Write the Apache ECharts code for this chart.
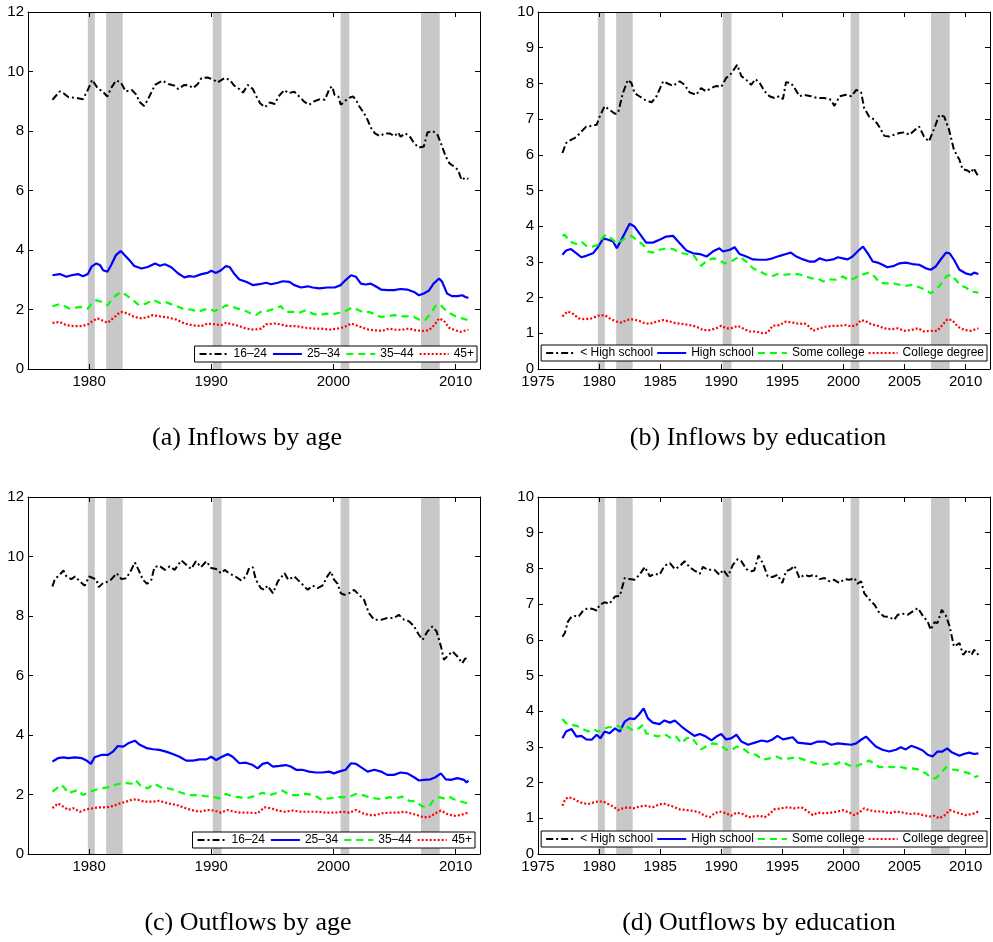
<!DOCTYPE html>
<html>
<head>
<meta charset="utf-8">
<script src="https://cdn.jsdelivr.net/npm/echarts@6/dist/echarts.min.js"></script>
<style>
  html, body { margin: 0; padding: 0; background: #fff; }
  #chart { width: 993px; height: 942px; }
</style>
</head>
<body>
<div id="chart"></div>
<script>
// ---- Tick labels and categories ----
const ageYearTicks = [1980, 1990, 2000, 2010];
const eduYearTicks = [1975, 1980, 1985, 1990, 1995, 2000, 2005, 2010];
const ageGroups = ['16\u201324', '25\u201334', '35\u201344', '45+'];
const eduGroups = ['< High school', 'High school', 'Some college', 'College degree'];

// Recession periods (start, end) in fractional years
const recessions = [[1979.9, 1980.47], [1981.4, 1982.75], [1990.12, 1990.84], [2000.59, 2001.3], [2007.17, 2008.7]];

// ---- (a) Inflows by age: [year, rate] ----
const inAge1624 = [[1977.0,9.05],[1977.6,9.33],[1977.9,9.27],[1978.3,9.14],[1979.1,9.1],[1979.5,9.07],[1979.9,9.38],[1980.25,9.72],[1980.7,9.44],[1981.1,9.33],[1981.5,9.16],[1981.8,9.44],[1982.2,9.7],[1982.6,9.63],[1983.0,9.33],[1983.5,9.38],[1983.9,9.21],[1984.1,8.99],[1984.5,8.84],[1984.8,9.05],[1985.4,9.55],[1986.0,9.69],[1986.5,9.58],[1987.0,9.52],[1987.3,9.41],[1987.8,9.55],[1988.2,9.53],[1988.5,9.44],[1988.9,9.58],[1989.2,9.78],[1989.7,9.8],[1990.2,9.72],[1990.5,9.63],[1991.1,9.78],[1991.5,9.72],[1991.9,9.52],[1992.3,9.41],[1992.6,9.29],[1993.0,9.55],[1993.4,9.41],[1993.7,9.16],[1994.0,8.93],[1994.4,8.8],[1994.8,8.96],[1995.2,8.91],[1995.5,9.16],[1996.0,9.38],[1996.3,9.27],[1996.8,9.32],[1997.2,9.16],[1997.6,8.99],[1998.0,8.88],[1998.4,8.99],[1998.9,9.07],[1999.3,9.05],[1999.7,9.44],[1999.9,9.5],[2000.1,9.21],[2000.4,9.16],[2000.6,8.88],[2000.9,8.99],[2001.2,9.1],[2001.6,9.16],[2001.85,9.05],[2002.1,8.84],[2002.5,8.6],[2002.8,8.37],[2003.1,8.09],[2003.4,7.92],[2003.8,7.83],[2004.2,7.92],[2004.6,7.92],[2005.0,7.83],[2005.3,7.95],[2005.5,7.81],[2005.9,7.92],[2006.3,7.79],[2006.6,7.59],[2007.0,7.44],[2007.4,7.48],[2007.7,7.95],[2008.1,8.0],[2008.5,7.9],[2008.8,7.59],[2009.2,7.14],[2009.5,6.91],[2009.9,6.8],[2010.2,6.69],[2010.5,6.35],[2010.8,6.44],[2011.05,6.39]];
const inAge2534 = [[1977.0,3.15],[1977.6,3.19],[1978.15,3.10],[1978.55,3.15],[1979.1,3.19],[1979.5,3.12],[1979.9,3.19],[1980.2,3.44],[1980.6,3.55],[1980.9,3.49],[1981.15,3.32],[1981.5,3.27],[1981.8,3.49],[1982.2,3.83],[1982.6,3.97],[1982.9,3.83],[1983.3,3.66],[1983.7,3.46],[1984.3,3.38],[1984.8,3.43],[1985.4,3.55],[1985.8,3.47],[1986.2,3.52],[1986.7,3.43],[1987.3,3.21],[1987.8,3.08],[1988.2,3.12],[1988.6,3.10],[1989.2,3.19],[1989.7,3.23],[1990.0,3.30],[1990.4,3.23],[1990.8,3.32],[1991.2,3.46],[1991.5,3.43],[1991.9,3.19],[1992.3,3.01],[1992.85,2.93],[1993.4,2.82],[1993.95,2.85],[1994.5,2.90],[1994.9,2.85],[1995.45,2.90],[1995.85,2.95],[1996.4,2.93],[1996.8,2.82],[1997.35,2.74],[1997.9,2.78],[1998.3,2.74],[1998.85,2.71],[1999.5,2.74],[2000.1,2.74],[2000.6,2.82],[2001.0,2.99],[2001.45,3.15],[2001.85,3.10],[2002.25,2.87],[2002.65,2.84],[2003.05,2.87],[2003.45,2.78],[2003.9,2.67],[2004.4,2.65],[2004.95,2.65],[2005.5,2.69],[2006.05,2.67],[2006.6,2.59],[2007.0,2.48],[2007.4,2.54],[2007.8,2.63],[2008.2,2.87],[2008.65,3.04],[2008.9,2.93],[2009.3,2.54],[2009.7,2.45],[2010.15,2.45],[2010.55,2.48],[2010.8,2.42],[2011.05,2.39]];
const inAge3544 = [[1977.0,2.11],[1977.6,2.18],[1978.0,2.11],[1978.4,2.03],[1979.0,2.07],[1979.5,2.09],[1979.9,2.03],[1980.25,2.22],[1980.6,2.31],[1981.0,2.26],[1981.5,2.14],[1981.8,2.29],[1982.2,2.48],[1982.65,2.59],[1983.05,2.48],[1983.6,2.31],[1984.1,2.14],[1984.7,2.20],[1985.2,2.33],[1985.8,2.22],[1986.2,2.26],[1986.7,2.18],[1987.3,2.09],[1987.8,2.00],[1988.35,2.00],[1988.9,1.92],[1989.3,1.98],[1989.7,2.03],[1990.25,1.95],[1990.8,2.03],[1991.2,2.14],[1991.6,2.11],[1992.15,2.03],[1992.7,1.98],[1993.25,1.86],[1993.65,1.81],[1994.05,1.92],[1994.6,1.95],[1995.15,2.03],[1995.7,2.11],[1996.1,1.92],[1996.65,1.92],[1997.2,1.89],[1997.75,1.98],[1998.3,1.86],[1998.85,1.81],[1999.4,1.86],[1999.95,1.84],[2000.5,1.89],[2001.0,1.95],[2001.55,2.07],[2001.95,2.00],[2002.5,1.89],[2002.9,1.92],[2003.3,1.86],[2003.85,1.75],[2004.4,1.77],[2004.95,1.81],[2005.5,1.77],[2006.05,1.77],[2006.6,1.75],[2007.1,1.64],[2007.55,1.66],[2007.95,1.86],[2008.35,2.11],[2008.7,2.18],[2009.05,2.03],[2009.45,1.89],[2010.0,1.77],[2010.55,1.70],[2011.05,1.64]];
const inAge45 = [[1977.0,1.55],[1977.6,1.58],[1978.15,1.47],[1978.7,1.44],[1979.4,1.44],[1979.9,1.50],[1980.3,1.62],[1980.7,1.70],[1981.15,1.62],[1981.5,1.55],[1981.95,1.70],[1982.4,1.86],[1982.7,1.92],[1983.2,1.86],[1983.7,1.75],[1984.3,1.70],[1984.8,1.75],[1985.2,1.81],[1985.8,1.77],[1986.45,1.73],[1987.15,1.66],[1987.8,1.53],[1988.5,1.47],[1989.2,1.44],[1989.7,1.53],[1990.4,1.50],[1990.8,1.47],[1991.2,1.55],[1991.75,1.50],[1992.3,1.44],[1992.85,1.36],[1993.5,1.32],[1994.1,1.36],[1994.5,1.50],[1995.15,1.53],[1995.7,1.50],[1996.25,1.44],[1996.95,1.44],[1997.6,1.39],[1998.3,1.36],[1998.95,1.36],[1999.65,1.32],[2000.35,1.36],[2000.9,1.41],[2001.45,1.53],[2001.85,1.47],[2002.4,1.39],[2002.9,1.32],[2003.45,1.30],[2004.0,1.28],[2004.55,1.36],[2005.1,1.32],[2005.65,1.32],[2006.2,1.36],[2006.75,1.30],[2007.3,1.28],[2007.8,1.30],[2008.25,1.47],[2008.65,1.70],[2009.05,1.62],[2009.45,1.39],[2010.0,1.30],[2010.4,1.25],[2011.05,1.32]];

// ---- (b) Inflows by education ----
const inEduLessHS = [[1977.0,6.05],[1977.3,6.33],[1977.7,6.42],[1978.15,6.50],[1978.55,6.65],[1978.95,6.79],[1979.4,6.81],[1979.8,6.84],[1980.05,7.07],[1980.45,7.36],[1980.85,7.26],[1981.3,7.15],[1981.55,7.17],[1981.95,7.73],[1982.35,8.10],[1982.65,8.01],[1982.9,7.73],[1983.3,7.64],[1983.75,7.54],[1984.3,7.47],[1984.7,7.64],[1985.25,8.06],[1985.65,7.99],[1986.05,7.93],[1986.6,8.06],[1987.0,7.96],[1987.4,7.75],[1987.95,7.68],[1988.35,7.87],[1988.75,7.78],[1989.2,7.87],[1989.6,7.93],[1990.0,7.90],[1990.4,8.15],[1990.8,8.27],[1991.3,8.52],[1991.65,8.20],[1992.05,8.10],[1992.45,7.96],[1992.8,8.12],[1993.15,8.01],[1993.55,7.78],[1993.95,7.64],[1994.35,7.59],[1994.75,7.64],[1995.05,7.56],[1995.3,8.03],[1995.7,8.01],[1996.0,7.87],[1996.4,7.64],[1996.8,7.68],[1997.35,7.64],[1997.9,7.59],[1998.45,7.59],[1999.0,7.54],[1999.25,7.37],[1999.7,7.64],[2000.2,7.68],[2000.65,7.64],[2001.05,7.82],[2001.45,7.75],[2001.7,7.31],[2002.1,7.07],[2002.55,6.98],[2002.95,6.78],[2003.35,6.53],[2003.75,6.51],[2004.15,6.56],[2004.6,6.61],[2005.0,6.63],[2005.4,6.56],[2005.8,6.68],[2006.2,6.79],[2006.6,6.51],[2007.0,6.37],[2007.45,6.75],[2007.85,7.12],[2008.25,7.07],[2008.65,6.70],[2009.05,6.14],[2009.5,5.86],[2009.75,5.60],[2010.15,5.56],[2010.45,5.49],[2010.65,5.63],[2011.05,5.39]];
const inEduHS = [[1977.0,3.20],[1977.3,3.32],[1977.7,3.36],[1978.15,3.24],[1978.55,3.13],[1978.95,3.17],[1979.5,3.24],[1979.9,3.41],[1980.35,3.66],[1980.75,3.62],[1981.15,3.57],[1981.45,3.38],[1981.7,3.54],[1982.1,3.80],[1982.5,4.07],[1982.9,3.99],[1983.3,3.80],[1983.85,3.54],[1984.4,3.54],[1984.95,3.62],[1985.5,3.71],[1986.05,3.73],[1986.6,3.52],[1987.15,3.32],[1987.7,3.24],[1988.25,3.22],[1988.8,3.15],[1989.3,3.29],[1989.85,3.38],[1990.15,3.29],[1990.7,3.34],[1991.1,3.41],[1991.5,3.22],[1992.05,3.15],[1992.6,3.07],[1993.15,3.06],[1993.7,3.06],[1994.2,3.10],[1994.8,3.17],[1995.3,3.22],[1995.7,3.26],[1996.15,3.15],[1996.7,3.07],[1997.2,3.01],[1997.65,3.01],[1998.05,3.10],[1998.6,3.04],[1999.15,3.07],[1999.55,3.13],[1999.95,3.10],[2000.35,3.07],[2000.75,3.15],[2001.15,3.29],[2001.6,3.43],[2002.0,3.24],[2002.4,3.01],[2002.8,2.98],[2003.2,2.92],[2003.6,2.85],[2004.15,2.89],[2004.6,2.96],[2005.1,2.98],[2005.65,2.94],[2006.2,2.92],[2006.75,2.82],[2007.15,2.78],[2007.55,2.87],[2007.95,3.06],[2008.4,3.26],[2008.7,3.24],[2009.05,3.06],[2009.5,2.78],[2010.0,2.68],[2010.45,2.64],[2010.7,2.70],[2011.05,2.66]];
const inEduSomeCol = [[1977.0,3.73],[1977.2,3.76],[1977.6,3.57],[1978.15,3.50],[1978.55,3.57],[1978.95,3.45],[1979.5,3.43],[1979.9,3.48],[1980.35,3.71],[1980.6,3.76],[1981.0,3.66],[1981.45,3.52],[1981.85,3.60],[1982.25,3.69],[1982.65,3.73],[1983.05,3.62],[1983.6,3.48],[1984.0,3.29],[1984.4,3.26],[1984.95,3.34],[1985.5,3.38],[1986.05,3.36],[1986.6,3.26],[1987.15,3.22],[1987.7,3.20],[1988.1,3.01],[1988.35,2.89],[1988.75,3.01],[1989.3,3.10],[1989.85,3.06],[1990.25,2.96],[1990.7,2.98],[1991.1,3.07],[1991.5,3.15],[1992.05,3.01],[1992.6,2.82],[1993.15,2.73],[1993.7,2.64],[1994.1,2.59],[1994.65,2.66],[1995.2,2.64],[1995.7,2.66],[1996.25,2.66],[1996.8,2.61],[1997.35,2.54],[1997.9,2.54],[1998.35,2.45],[1998.85,2.51],[1999.4,2.50],[1999.95,2.59],[2000.5,2.48],[2000.9,2.54],[2001.3,2.64],[2001.7,2.66],[2002.1,2.70],[2002.55,2.59],[2002.95,2.42],[2003.5,2.40],[2004.05,2.40],[2004.6,2.36],[2005.1,2.33],[2005.65,2.36],[2006.2,2.29],[2006.75,2.21],[2007.15,2.12],[2007.55,2.21],[2007.95,2.36],[2008.4,2.59],[2008.8,2.64],[2009.2,2.50],[2009.6,2.33],[2010.0,2.29],[2010.45,2.17],[2011.05,2.14]];
const inEduCollege = [[1977.0,1.47],[1977.2,1.54],[1977.45,1.61],[1977.9,1.54],[1978.3,1.42],[1978.85,1.39],[1979.4,1.42],[1979.9,1.49],[1980.45,1.51],[1980.85,1.42],[1981.4,1.33],[1981.85,1.30],[1982.25,1.37],[1982.65,1.39],[1983.2,1.36],[1983.6,1.30],[1984.15,1.26],[1984.7,1.33],[1985.25,1.37],[1985.8,1.33],[1986.3,1.28],[1986.85,1.26],[1987.4,1.23],[1987.95,1.19],[1988.5,1.09],[1989.05,1.09],[1989.6,1.14],[1990.0,1.21],[1990.4,1.14],[1990.8,1.14],[1991.35,1.21],[1991.75,1.14],[1992.3,1.05],[1992.85,1.05],[1993.4,1.00],[1993.8,1.02],[1994.2,1.21],[1994.75,1.23],[1995.3,1.33],[1995.85,1.30],[1996.4,1.26],[1996.8,1.28],[1997.2,1.19],[1997.5,1.07],[1998.05,1.14],[1998.6,1.19],[1999.15,1.21],[1999.7,1.21],[2000.2,1.23],[2000.65,1.19],[2001.05,1.23],[2001.45,1.37],[2001.85,1.33],[2002.25,1.26],[2002.8,1.21],[2003.35,1.14],[2003.9,1.11],[2004.45,1.14],[2005.0,1.07],[2005.55,1.09],[2006.1,1.14],[2006.6,1.05],[2007.15,1.07],[2007.7,1.07],[2008.1,1.23],[2008.5,1.39],[2008.9,1.37],[2009.35,1.19],[2009.9,1.09],[2010.45,1.07],[2011.05,1.14]];

// ---- (c) Outflows by age ----
const outAge1624 = [[1977.0,8.99],[1977.2,9.24],[1977.6,9.39],[1977.9,9.53],[1978.15,9.33],[1978.55,9.24],[1978.85,9.33],[1979.25,9.16],[1979.65,9.02],[1980.0,9.33],[1980.35,9.27],[1980.6,9.22],[1980.8,8.97],[1981.15,9.11],[1981.55,9.16],[1981.8,9.22],[1982.25,9.44],[1982.65,9.24],[1983.05,9.27],[1983.45,9.55],[1983.75,9.80],[1984.05,9.55],[1984.4,9.22],[1984.75,9.08],[1985.1,9.22],[1985.35,9.64],[1985.75,9.69],[1986.2,9.55],[1986.6,9.67],[1987.0,9.55],[1987.55,9.87],[1987.95,9.72],[1988.35,9.58],[1988.75,9.84],[1989.15,9.64],[1989.6,9.84],[1990.0,9.61],[1990.4,9.58],[1990.8,9.44],[1991.1,9.55],[1991.5,9.42],[1991.9,9.35],[1992.45,9.20],[1992.85,9.33],[1993.1,9.61],[1993.4,9.64],[1993.65,9.22],[1994.05,8.94],[1994.35,8.88],[1994.6,9.02],[1995.05,8.77],[1995.45,9.16],[1996.0,9.44],[1996.3,9.22],[1996.8,9.33],[1997.35,9.11],[1997.9,8.88],[1998.3,9.02],[1998.7,8.94],[1999.1,9.02],[1999.5,9.33],[1999.8,9.50],[2000.05,9.22],[2000.35,9.08],[2000.6,8.77],[2000.9,8.71],[2001.3,8.77],[2001.7,8.88],[2002.1,8.71],[2002.5,8.55],[2002.9,8.10],[2003.35,7.87],[2003.9,7.87],[2004.4,7.93],[2004.95,7.93],[2005.35,8.04],[2005.8,7.87],[2006.2,7.82],[2006.6,7.65],[2007.0,7.37],[2007.3,7.20],[2007.7,7.48],[2008.1,7.65],[2008.45,7.48],[2008.8,6.98],[2009.05,6.53],[2009.45,6.70],[2009.75,6.81],[2010.15,6.64],[2010.55,6.41],[2010.8,6.58],[2011.05,6.47]];
const outAge2534 = [[1977.0,3.11],[1977.45,3.22],[1977.9,3.25],[1978.3,3.22],[1978.85,3.25],[1979.4,3.22],[1979.8,3.14],[1980.15,3.03],[1980.45,3.25],[1981.0,3.33],[1981.55,3.33],[1981.95,3.44],[1982.35,3.63],[1982.8,3.61],[1983.2,3.72],[1983.75,3.81],[1984.15,3.67],[1984.7,3.56],[1985.25,3.52],[1985.75,3.50],[1986.3,3.44],[1986.85,3.36],[1987.4,3.27],[1987.95,3.14],[1988.5,3.14],[1989.05,3.18],[1989.6,3.18],[1990.0,3.27],[1990.4,3.16],[1990.8,3.25],[1991.35,3.36],[1991.75,3.27],[1992.3,3.05],[1992.85,3.07],[1993.4,2.99],[1993.8,2.88],[1994.2,3.03],[1994.6,3.07],[1995.05,2.94],[1995.6,2.96],[1996.1,2.99],[1996.5,2.94],[1996.95,2.83],[1997.45,2.83],[1998.0,2.77],[1998.55,2.74],[1999.1,2.74],[1999.65,2.77],[2000.05,2.71],[2000.45,2.77],[2001.0,2.83],[2001.45,3.05],[2001.85,3.03],[2002.25,2.92],[2002.8,2.77],[2003.35,2.83],[2003.9,2.77],[2004.4,2.66],[2004.95,2.66],[2005.5,2.74],[2006.05,2.71],[2006.6,2.58],[2007.0,2.47],[2007.4,2.49],[2007.95,2.51],[2008.35,2.58],[2008.8,2.71],[2009.2,2.51],[2009.6,2.49],[2010.15,2.55],[2010.7,2.49],[2010.9,2.40],[2011.05,2.47]];
const outAge3544 = [[1977.0,2.10],[1977.35,2.21],[1977.75,2.32],[1978.0,2.21],[1978.3,2.04],[1978.7,2.10],[1979.1,2.15],[1979.5,1.98],[1979.9,2.06],[1980.45,2.15],[1981.0,2.21],[1981.55,2.24],[1982.1,2.32],[1982.5,2.36],[1983.05,2.38],[1983.6,2.36],[1983.85,2.47],[1984.25,2.27],[1984.8,2.21],[1985.35,2.36],[1985.9,2.24],[1986.45,2.21],[1987.0,2.15],[1987.55,2.06],[1988.2,1.98],[1988.9,1.98],[1989.45,1.95],[1990.1,1.93],[1990.65,1.87],[1991.2,2.02],[1991.75,1.93],[1992.3,1.91],[1992.85,1.87],[1993.55,1.95],[1994.2,2.06],[1994.75,1.98],[1995.3,2.04],[1995.85,2.13],[1996.4,1.98],[1997.05,1.98],[1997.75,2.02],[1998.45,1.98],[1998.95,1.84],[1999.65,1.87],[2000.35,1.91],[2000.9,1.91],[2001.45,1.95],[2001.85,2.02],[2002.4,1.98],[2002.9,1.91],[2003.45,1.87],[2004.0,1.84],[2004.55,1.91],[2005.1,1.87],[2005.65,1.93],[2006.2,1.79],[2006.75,1.76],[2007.3,1.59],[2007.85,1.61],[2008.25,1.84],[2008.65,1.91],[2009.05,1.87],[2009.45,1.93],[2009.85,1.84],[2010.25,1.79],[2010.7,1.73],[2011.05,1.70]];
const outAge45 = [[1977.0,1.54],[1977.45,1.70],[1977.9,1.59],[1978.3,1.48],[1978.7,1.54],[1979.25,1.42],[1979.8,1.50],[1980.35,1.54],[1980.85,1.57],[1981.4,1.57],[1981.95,1.61],[1982.5,1.70],[1983.05,1.76],[1983.6,1.84],[1984.0,1.82],[1984.55,1.76],[1985.25,1.76],[1985.75,1.79],[1986.45,1.70],[1987.15,1.65],[1987.7,1.57],[1988.35,1.48],[1989.05,1.42],[1989.7,1.48],[1990.25,1.46],[1990.8,1.39],[1991.35,1.48],[1991.9,1.42],[1992.45,1.39],[1993.1,1.39],[1993.8,1.37],[1994.35,1.57],[1994.9,1.54],[1995.45,1.46],[1996.0,1.42],[1996.65,1.46],[1997.35,1.42],[1998.0,1.42],[1998.7,1.42],[1999.4,1.39],[2000.05,1.39],[2000.75,1.42],[2001.3,1.39],[2001.85,1.48],[2002.4,1.37],[2002.9,1.31],[2003.45,1.31],[2004.0,1.37],[2004.7,1.39],[2005.25,1.39],[2005.8,1.42],[2006.3,1.37],[2006.85,1.31],[2007.4,1.23],[2007.95,1.26],[2008.35,1.37],[2008.8,1.46],[2009.3,1.35],[2009.85,1.28],[2010.4,1.31],[2011.05,1.39]];

// ---- (d) Outflows by education ----
const outEduLessHS = [[1977.0,6.09],[1977.2,6.19],[1977.45,6.51],[1977.75,6.65],[1978.0,6.67],[1978.3,6.64],[1978.7,6.82],[1979.1,6.89],[1979.5,6.86],[1979.8,6.82],[1980.05,6.98],[1980.45,7.05],[1980.85,7.01],[1981.3,7.21],[1981.7,7.23],[1982.1,7.73],[1982.5,7.70],[1982.9,7.68],[1983.3,7.82],[1983.75,8.04],[1984.15,7.78],[1984.55,7.85],[1984.95,7.82],[1985.35,8.07],[1985.8,8.15],[1986.2,7.98],[1986.6,8.06],[1987.0,8.20],[1987.4,8.04],[1987.8,7.94],[1988.25,7.85],[1988.5,8.04],[1988.9,7.96],[1989.45,7.96],[1989.85,7.82],[1990.15,7.96],[1990.55,7.78],[1990.95,8.10],[1991.35,8.26],[1991.65,8.20],[1992.05,7.98],[1992.45,7.92],[1992.7,7.94],[1993.05,8.36],[1993.4,8.15],[1993.8,7.78],[1994.2,7.76],[1994.6,7.82],[1995.0,7.59],[1995.3,7.92],[1995.7,7.98],[1996.0,8.07],[1996.4,7.73],[1996.8,7.82],[1997.2,7.78],[1997.65,7.82],[1998.05,7.70],[1998.45,7.73],[1998.85,7.64],[1999.25,7.68],[1999.65,7.59],[2000.1,7.70],[2000.5,7.68],[2000.9,7.73],[2001.15,7.57],[2001.45,7.64],[2001.7,7.31],[2002.1,7.14],[2002.55,6.98],[2002.95,6.75],[2003.35,6.65],[2003.75,6.64],[2004.15,6.56],[2004.45,6.70],[2004.85,6.73],[2005.25,6.70],[2005.65,6.79],[2006.1,6.89],[2006.5,6.67],[2006.9,6.51],[2007.15,6.28],[2007.45,6.49],[2007.7,6.47],[2008.05,6.84],[2008.4,6.67],[2008.7,6.37],[2009.05,5.81],[2009.5,5.91],[2009.8,5.58],[2010.15,5.72],[2010.5,5.58],[2010.7,5.72],[2011.05,5.58]];
const outEduHS = [[1977.0,3.24],[1977.3,3.43],[1977.75,3.50],[1978.15,3.29],[1978.55,3.31],[1978.95,3.21],[1979.4,3.20],[1979.8,3.34],[1980.1,3.24],[1980.45,3.43],[1980.85,3.38],[1981.3,3.52],[1981.7,3.43],[1982.1,3.71],[1982.5,3.80],[1982.9,3.78],[1983.25,3.90],[1983.65,4.08],[1984.0,3.80],[1984.4,3.68],[1984.95,3.64],[1985.35,3.74],[1985.8,3.68],[1986.2,3.74],[1986.75,3.57],[1987.3,3.43],[1987.8,3.31],[1988.25,3.36],[1988.75,3.29],[1989.2,3.18],[1989.6,3.29],[1990.0,3.36],[1990.4,3.21],[1990.8,3.24],[1991.25,3.34],[1991.65,3.15],[1992.2,3.06],[1992.75,3.12],[1993.3,3.18],[1993.8,3.15],[1994.2,3.21],[1994.6,3.31],[1995.05,3.21],[1995.45,3.24],[1995.85,3.27],[1996.25,3.12],[1996.8,3.10],[1997.35,3.08],[1997.9,3.15],[1998.45,3.15],[1999.0,3.06],[1999.55,3.10],[2000.1,3.08],[2000.65,3.06],[2001.05,3.10],[2001.45,3.20],[2001.85,3.29],[2002.25,3.15],[2002.65,3.01],[2003.2,2.92],[2003.75,2.87],[2004.3,2.92],[2004.7,2.99],[2005.1,2.93],[2005.55,3.03],[2006.1,2.96],[2006.5,2.90],[2006.9,2.78],[2007.3,2.73],[2007.7,2.87],[2008.1,2.87],[2008.5,2.96],[2008.9,2.84],[2009.5,2.75],[2009.85,2.80],[2010.3,2.84],[2010.7,2.80],[2011.05,2.82]];
const outEduSomeCol = [[1977.0,3.78],[1977.3,3.66],[1977.75,3.62],[1978.15,3.59],[1978.7,3.50],[1979.1,3.43],[1979.5,3.50],[1979.9,3.43],[1980.35,3.50],[1980.75,3.55],[1981.15,3.55],[1981.55,3.59],[1981.95,3.48],[1982.35,3.55],[1982.8,3.46],[1983.25,3.52],[1983.6,3.62],[1983.85,3.38],[1984.3,3.34],[1984.8,3.29],[1985.35,3.36],[1985.9,3.24],[1986.3,3.29],[1986.75,3.10],[1987.15,3.24],[1987.55,3.27],[1987.95,3.10],[1988.35,2.93],[1988.75,3.01],[1989.3,3.10],[1989.85,3.06],[1990.4,2.93],[1990.8,2.90],[1991.25,3.01],[1991.75,2.96],[1992.3,2.82],[1992.85,2.78],[1993.4,2.64],[1993.95,2.68],[1994.5,2.73],[1995.05,2.65],[1995.6,2.68],[1996.15,2.71],[1996.7,2.65],[1997.2,2.59],[1997.75,2.54],[1998.3,2.50],[1998.85,2.54],[1999.4,2.52],[1999.8,2.59],[2000.35,2.50],[2000.9,2.43],[2001.3,2.50],[2001.7,2.54],[2002.1,2.62],[2002.55,2.52],[2002.95,2.43],[2003.5,2.45],[2004.05,2.43],[2004.6,2.45],[2005.1,2.40],[2005.65,2.40],[2006.2,2.36],[2006.75,2.26],[2007.15,2.15],[2007.55,2.12],[2007.95,2.24],[2008.4,2.43],[2008.8,2.37],[2009.2,2.36],[2009.75,2.31],[2010.3,2.26],[2010.7,2.15],[2011.05,2.19]];
const outEduCollege = [[1977.0,1.35],[1977.2,1.51],[1977.45,1.59],[1977.85,1.56],[1978.3,1.47],[1978.7,1.42],[1979.1,1.40],[1979.5,1.44],[1979.9,1.47],[1980.35,1.47],[1980.75,1.40],[1981.15,1.33],[1981.55,1.23],[1981.95,1.28],[1982.35,1.31],[1982.8,1.28],[1983.3,1.33],[1983.85,1.35],[1984.4,1.31],[1984.8,1.37],[1985.25,1.42],[1985.65,1.37],[1986.05,1.33],[1986.6,1.25],[1987.15,1.23],[1987.7,1.21],[1988.25,1.16],[1988.65,1.07],[1989.05,1.03],[1989.45,1.14],[1989.85,1.19],[1990.4,1.14],[1990.8,1.07],[1991.25,1.16],[1991.75,1.12],[1992.2,1.03],[1992.6,1.05],[1993.15,1.07],[1993.55,1.03],[1993.95,1.12],[1994.35,1.25],[1994.9,1.28],[1995.45,1.31],[1996.0,1.28],[1996.55,1.31],[1997.1,1.19],[1997.5,1.09],[1997.9,1.16],[1998.45,1.14],[1999.0,1.16],[1999.55,1.19],[1999.95,1.23],[2000.5,1.16],[2000.9,1.09],[2001.3,1.16],[2001.7,1.28],[2002.1,1.23],[2002.65,1.19],[2003.2,1.19],[2003.75,1.14],[2004.3,1.19],[2004.85,1.16],[2005.4,1.12],[2005.95,1.14],[2006.5,1.09],[2007.05,1.05],[2007.45,1.07],[2007.85,1.00],[2008.3,1.09],[2008.7,1.23],[2009.05,1.19],[2009.5,1.14],[2010.0,1.09],[2010.55,1.12],[2011.05,1.19]];

// ---- Line styles shared by the four groups in each panel ----
const lineStyles = [
  { color: '#000000', width: 2, type: [7, 3, 2, 3] },   // dash-dot
  { color: '#0000ff', width: 2.2, type: 'solid' },      // solid
  { color: '#00ff00', width: 2.2, type: [7, 5] },       // dashed
  { color: '#ff0000', width: 2.2, type: [2, 2] }        // dotted
];

const panels = [
  { left: 28, top: 12, yMax: 12, yStep: 2, xTicks: ageYearTicks, names: ageGroups,
    series: [inAge1624, inAge2534, inAge3544, inAge45], caption: '(a) Inflows by age',
    capX: 247, capTop: 423, legendRight: 516, legendTop: 346, legendGap: 5 },
  { left: 538, top: 12, yMax: 10, yStep: 1, xTicks: eduYearTicks, names: eduGroups,
    series: [inEduLessHS, inEduHS, inEduSomeCol, inEduCollege], caption: '(b) Inflows by education',
    capX: 758, capTop: 423, legendRight: 6, legendTop: 345, legendGap: 3 },
  { left: 28, top: 497, yMax: 12, yStep: 2, xTicks: ageYearTicks, names: ageGroups,
    series: [outAge1624, outAge2534, outAge3544, outAge45], caption: '(c) Outflows by age',
    capX: 248, capTop: 908, legendRight: 518, legendTop: 832, legendGap: 5 },
  { left: 538, top: 497, yMax: 10, yStep: 1, xTicks: eduYearTicks, names: eduGroups,
    series: [outEduLessHS, outEduHS, outEduSomeCol, outEduCollege], caption: '(d) Outflows by education',
    capX: 759, capTop: 908, legendRight: 6, legendTop: 831, legendGap: 3 }
];

const PLOT_W = 452, PLOT_H = 357;
const tickFont = { color: '#000', fontSize: 15, fontFamily: 'Liberation Sans, Arial, sans-serif' };
const axisLineStyle = { color: '#000', width: 1 };

const option = {
  backgroundColor: '#fff',
  animation: false,
  grid: [], xAxis: [], yAxis: [], series: [], legend: [], title: []
};

panels.forEach((p, i) => {
  option.grid.push({ left: p.left, top: p.top, width: PLOT_W, height: PLOT_H,
    containLabel: false, outerBoundsMode: 'none', show: false });

  // bottom axis with labels, top axis mirrored ticks only
  ['bottom', 'top'].forEach(pos => {
    option.xAxis.push({
      type: 'value', gridIndex: i, position: pos, min: 1975, max: 2012, z: 10,
      axisLine: { show: true, onZero: false, lineStyle: axisLineStyle },
      axisTick: { show: true, inside: true, length: 5, customValues: p.xTicks, lineStyle: axisLineStyle },
      axisLabel: pos === 'bottom'
        ? Object.assign({ show: true, margin: 5, customValues: p.xTicks, formatter: v => String(v) }, tickFont)
        : { show: false },
      splitLine: { show: false }
    });
  });
  // left axis with labels, right axis mirrored ticks only
  ['left', 'right'].forEach(pos => {
    option.yAxis.push({
      type: 'value', gridIndex: i, position: pos, min: 0, max: p.yMax, interval: p.yStep, z: 10,
      axisLine: { show: true, onZero: false, lineStyle: axisLineStyle },
      axisTick: { show: true, inside: true, length: 5, lineStyle: axisLineStyle },
      axisLabel: pos === 'left' ? Object.assign({ show: true, margin: 4 }, tickFont) : { show: false },
      splitLine: { show: false }
    });
  });

  // recession shading
  option.series.push({
    type: 'line', xAxisIndex: 2 * i, yAxisIndex: 2 * i, data: [], silent: true, symbol: 'none',
    markArea: {
      silent: true,
      itemStyle: { color: '#c8c8c8' },
      data: recessions.map(r => [{ xAxis: r[0] }, { xAxis: r[1] }])
    }
  });

  p.series.forEach((d, k) => {
    option.series.push({
      type: 'line', name: p.names[k], xAxisIndex: 2 * i, yAxisIndex: 2 * i,
      data: d, symbol: 'none', showSymbol: false, z: 3,
      lineStyle: lineStyles[k], itemStyle: { color: lineStyles[k].color },
      emphasis: { disabled: true }
    });
  });

  // legend keys show only the line sample (no marker)
  option.legend.push({
    data: p.names, right: p.legendRight, top: p.legendTop, orient: 'horizontal',
    itemWidth: 29, itemHeight: 12, itemGap: p.legendGap, padding: [2, 3, 2, 4],
    borderColor: '#000', borderWidth: 1, backgroundColor: '#fff', borderRadius: 0,
    selectedMode: false, z: 8,
    itemStyle: { opacity: 0, color: 'rgba(0,0,0,0)', borderWidth: 0 },
    lineStyle: { width: 2 },
    textStyle: { fontSize: 12, fontFamily: 'Liberation Sans, Arial, sans-serif', color: '#000' }
  });

  option.title.push({
    text: p.caption, left: p.capX, top: p.capTop, textAlign: 'center', padding: 0,
    textStyle: { fontFamily: 'Liberation Serif, Times New Roman, serif', fontSize: 26,
      fontWeight: 'normal', color: '#000', lineHeight: 30 }
  });
});

const chart = echarts.init(document.getElementById('chart'), null, { renderer: 'canvas' });
chart.setOption(option);
</script>
</body>
</html>
